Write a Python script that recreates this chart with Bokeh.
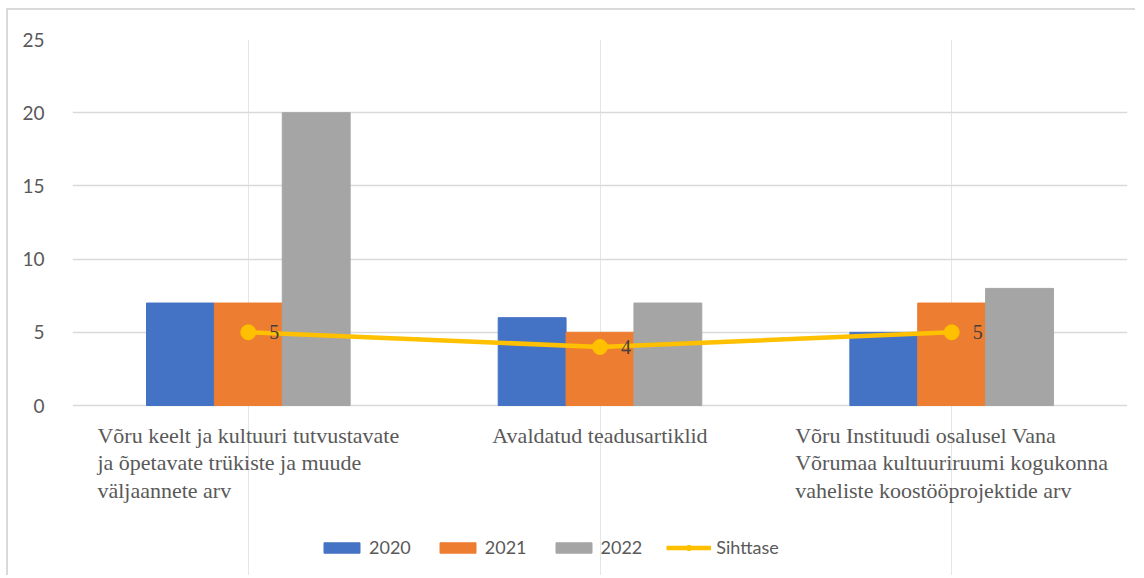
from bokeh.plotting import figure
from bokeh.models import ColumnDataSource, FactorRange, Legend, LegendItem, LabelSet, FixedTicker
from bokeh.transform import dodge
from bokeh.embed import file_html
from bokeh.resources import INLINE

categories = [
    "Võru keelt ja kultuuri tutvustavate\nja õpetavate trükiste ja muude\nväljaannete arv",
    "Avaldatud teadusartiklid",
    "Võru Instituudi osalusel Vana\nVõrumaa kultuuriruumi kogukonna\nvaheliste koostööprojektide arv",
]
y2020 = [7, 6, 5]
y2021 = [7, 5, 7]
y2022 = [20, 7, 8]
sihttase = [5, 4, 5]
yticks = [0, 5, 10, 15, 20, 25]

FONT = "Lato"
src = ColumnDataSource(dict(cat=categories, a=y2020, b=y2021, c=y2022, t=sihttase,
                            tl=[str(v) for v in sihttase]))

# frame extended below zero so the category labels and legend sit inside it
Y_LOW = -11.61
p = figure(frame_width=1055, frame_height=536, output_backend="svg", toolbar_location=None,
           x_range=FactorRange(*categories, range_padding=0), y_range=(Y_LOW, 25),
           x_axis_location=None,
           min_border_left=64, min_border_right=8, min_border_top=29, min_border_bottom=0)
p.outline_line_color = None
p.background_fill_color = "white"
p.border_fill_color = "white"

w = 0.193
r1 = p.vbar(x=dodge("cat", -w, range=p.x_range), top="a", width=w, source=src, color="#4472C4")
r2 = p.vbar(x=dodge("cat", 0, range=p.x_range), top="b", width=w, source=src, color="#ED7D31")
r3 = p.vbar(x=dodge("cat", w, range=p.x_range), top="c", width=w, source=src, color="#A5A5A5")
rl = p.line(x="cat", y="t", source=src, line_color="#FFC000", line_width=4.5)
rs = p.scatter(x="cat", y="t", source=src, size=15, color="#FFC000")

labels = LabelSet(x="cat", y="t", text="tl", source=src, x_offset=21, y_offset=0,
                  text_baseline="middle", text_align="left", text_font=FONT,
                  text_font_size="20px", text_color="#404040")
p.add_layout(labels)

cat_labels = LabelSet(x="cat", y=0, text="cat", source=src, x_offset=0, y_offset=-17,
                      text_baseline="top", text_align="center", text_font=FONT,
                      text_font_size="22px", text_color="#595959", text_line_height=1.1)
p.add_layout(cat_labels)

p.yaxis.ticker = FixedTicker(ticks=yticks)
p.ygrid.ticker = FixedTicker(ticks=yticks)
p.ygrid.grid_line_color = "#d9d9d9"
p.ygrid.grid_line_width = 1.5
p.yaxis.axis_line_color = None
p.yaxis.major_tick_line_color = None
p.yaxis.minor_tick_line_color = None
p.yaxis.major_label_text_font = FONT
p.yaxis.major_label_text_color = "#595959"
p.yaxis.major_label_text_font_size = "19px"
p.yaxis.major_label_standoff = 22

legend = Legend(items=[LegendItem(label="2020", renderers=[r1]),
                       LegendItem(label="2021", renderers=[r2]),
                       LegendItem(label="2022", renderers=[r3]),
                       LegendItem(label="Sihttase", renderers=[rl, rs])],
                orientation="horizontal", location=(247, 17),
                label_text_font=FONT, label_text_font_size="18px", label_text_color="#595959",
                glyph_width=45, glyph_height=13, label_standoff=5, spacing=24,
                border_line_color=None, background_fill_alpha=0, margin=0, padding=0)
p.add_layout(legend, "center")
p.styles = {"border-top": "2px solid #d9d9d9", "border-left": "2px solid #d9d9d9",
            "margin-left": "6px", "margin-top": "8px"}

open("out.html", "w").write(file_html(p, INLINE))
